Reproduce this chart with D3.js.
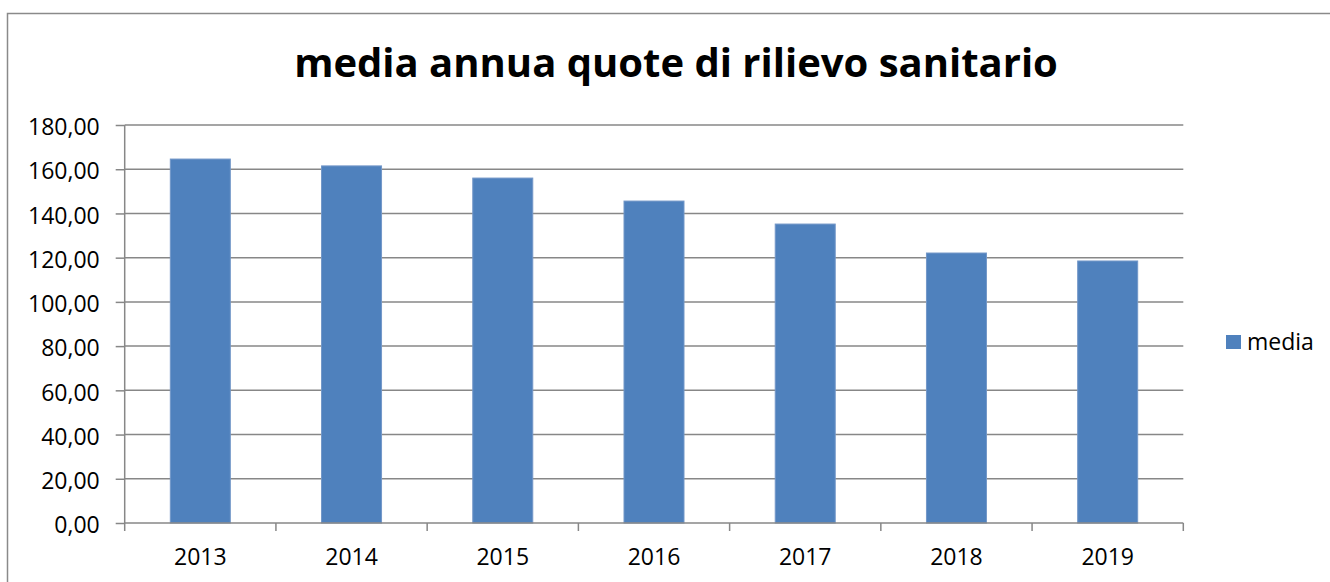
<!DOCTYPE html>
<html>
<head>
<meta charset="utf-8">
<script src="https://cdn.jsdelivr.net/npm/d3@7/dist/d3.min.js"></script>
<style>
  html, body { margin: 0; padding: 0; background: #ffffff; }
  svg { display: block; font-family: "Open Sans", "Liberation Sans", sans-serif; }
</style>
</head>
<body>
<svg id="chart" width="1330" height="582"></svg>
<script>
// Annual averages per year
const years = ["2013", "2014", "2015", "2016", "2017", "2018", "2019"];
const media = [164.6, 161.5, 156.0, 145.6, 135.2, 122.1, 118.5];
const yTicks = [0, 20, 40, 60, 80, 100, 120, 140, 160, 180];
const titleText = "media annua quote di rilievo sanitario";
const seriesName = "media";

const W = 1330, H = 582;
const plot = { left: 124.7, right: 1183.3, top: 125, bottom: 523 };
const barColor = "#4f81bd";
const gridColor = "#878787";
const labelSize = 23;

const svg = d3.select("#chart");

svg.append("rect").attr("width", W).attr("height", H).attr("fill", "#fff");

// chart frame (top and left edges visible)
svg.append("path")
  .attr("d", `M7.5,${H} V13.5 H${W}`)
  .attr("fill", "none")
  .attr("stroke", "#8a8a8a")
  .attr("stroke-width", 1.5);

// title
svg.append("text")
  .attr("x", 676)
  .attr("y", 77)
  .attr("text-anchor", "middle")
  .attr("font-size", 40)
  .attr("font-weight", "bold")
  .attr("fill", "#000")
  .text(titleText);

const y = d3.scaleLinear().domain([0, 180]).range([plot.bottom, plot.top]);

const pad = 1 - 60 / ((plot.right - plot.left) / years.length);
const x = d3.scaleBand()
  .domain(years)
  .range([plot.left, plot.right])
  .paddingInner(pad)
  .paddingOuter(pad / 2);

// horizontal gridlines
svg.append("g")
  .selectAll("line")
  .data(yTicks.filter(d => d > 0))
  .join("line")
  .attr("x1", plot.left)
  .attr("x2", plot.right)
  .attr("y1", d => y(d))
  .attr("y2", d => y(d))
  .attr("stroke", gridColor)
  .attr("stroke-width", 1.5);

// bars
svg.append("g")
  .selectAll("rect")
  .data(years.map((yr, i) => ({ yr, v: media[i] })))
  .join("rect")
  .attr("x", d => x(d.yr))
  .attr("width", x.bandwidth())
  .attr("y", d => y(d.v))
  .attr("height", d => y(0) - y(d.v))
  .attr("fill", barColor)
  .attr("stroke", "#7397c8")
  .attr("stroke-width", 1);

// y axis
const yAxis = svg.append("g")
  .attr("transform", `translate(${plot.left},0)`)
  .call(d3.axisLeft(y)
    .tickValues(yTicks)
    .tickSize(9)
    .tickPadding(16)
    .tickFormat(d => d.toFixed(2).replace(".", ",")));
yAxis.select(".domain").remove();
yAxis.selectAll(".tick line").attr("stroke", gridColor).attr("stroke-width", 1.5);
yAxis.selectAll(".tick text")
  .attr("font-size", labelSize)
  .attr("font-family", "'Open Sans', sans-serif")
  .attr("fill", "#000")
  .attr("dy", "0.42em");
yAxis.append("line")
  .attr("x1", 0).attr("x2", 0)
  .attr("y1", plot.top).attr("y2", plot.bottom)
  .attr("stroke", gridColor).attr("stroke-width", 1.5);

// x axis line, boundary ticks and year labels
const xg = svg.append("g");
xg.append("line")
  .attr("x1", plot.left).attr("x2", plot.right)
  .attr("y1", y(0)).attr("y2", y(0))
  .attr("stroke", gridColor).attr("stroke-width", 1.5);

const bounds = years.map(d => x(d) - x.step() * x.paddingInner() / 2).concat([plot.right]);
xg.selectAll("line.tk")
  .data(bounds)
  .join("line")
  .attr("class", "tk")
  .attr("x1", d => d).attr("x2", d => d)
  .attr("y1", y(0)).attr("y2", y(0) + 8)
  .attr("stroke", gridColor).attr("stroke-width", 1.5);

xg.selectAll("text")
  .data(years)
  .join("text")
  .attr("x", d => x(d) + x.bandwidth() / 2)
  .attr("y", 565)
  .attr("text-anchor", "middle")
  .attr("font-size", labelSize)
  .attr("fill", "#000")
  .text(d => d);

// legend
const lg = svg.append("g");
lg.append("rect")
  .attr("x", 1226).attr("y", 335)
  .attr("width", 15).attr("height", 14)
  .attr("fill", barColor);
lg.append("text")
  .attr("x", 1247).attr("y", 350)
  .attr("font-size", labelSize)
  .attr("fill", "#000")
  .text(seriesName);
</script>
</body>
</html>
